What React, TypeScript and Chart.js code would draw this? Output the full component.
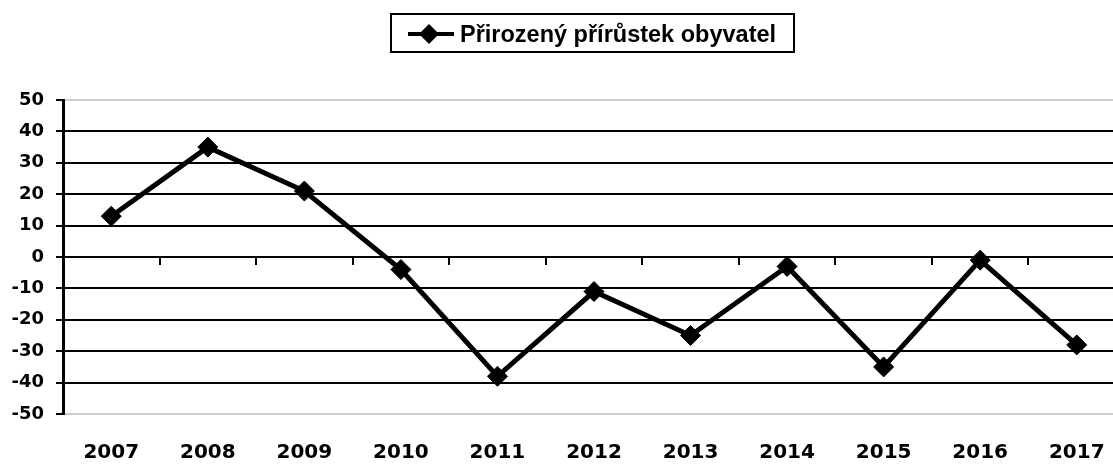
import React, { useEffect, useRef } from "react";
import { Chart, registerables } from "chart.js";

Chart.register(...registerables);

const years = ["2007", "2008", "2009", "2010", "2011", "2012", "2013", "2014", "2015", "2016", "2017"];
const growth = [13, 35, 21, -4, -38, -11, -25, -3, -35, -1, -28];
const seriesName = "Přirozený přírůstek obyvatel";
const yMin = -50;
const yMax = 50;
const yStep = 10;

const AXIS_FONT = "'DejaVu Sans', Verdana, sans-serif";
const LEGEND_FONT = "'Liberation Sans', Arial, sans-serif";

export default function App() {
  const ref = useRef<HTMLCanvasElement | null>(null);

  useEffect(() => {
    document.body.style.margin = "0";
    document.body.style.overflow = "hidden";
    const canvas = ref.current;
    if (!canvas) return;
    const chart = new Chart(canvas, {
      type: "line",
      data: {
        labels: years,
        datasets: [
          {
            label: seriesName,
            data: growth,
            borderColor: "#000",
            backgroundColor: "#000",
            borderWidth: 5,
            pointStyle: "rectRot",
            pointRadius: 10,
            pointBorderWidth: 1,
            pointBackgroundColor: "#000",
            pointBorderColor: "#000",
            tension: 0,
            fill: false,
            xAxisID: "x",
          },
        ],
      },
      options: {
        responsive: false,
        animation: false,
        maintainAspectRatio: false,
        layout: { padding: { top: 100, right: 0, left: 0, bottom: 0 } },
        plugins: {
          legend: { display: false },
          tooltip: { enabled: false },
        },
        scales: {
          x: {
            type: "category",
            position: "bottom",
            offset: true,
            grid: { display: false },
            border: { display: false },
            ticks: {
              color: "#000",
              font: { family: AXIS_FONT, size: 20, weight: "bold" },
              padding: 19,
              maxRotation: 0,
              autoSkip: false,
            },
            afterFit: (s: any) => {
              s.height = 50;
              s.paddingLeft = 0;
              s.paddingRight = 0;
            },
          },
          xZero: {
            type: "category",
            labels: years,
            position: { y: 0 } as any,
            offset: true,
            grid: {
              offset: true,
              display: true,
              drawOnChartArea: false,
              drawTicks: true,
              tickLength: 7,
              color: "#000",
              lineWidth: 2,
            },
            border: { display: true, color: "#000", width: 2 },
            ticks: { display: false },
            afterFit: (s: any) => {
              s.paddingLeft = 0;
              s.paddingRight = 0;
            },
          },
          y: {
            type: "linear",
            min: yMin,
            max: yMax,
            ticks: {
              stepSize: yStep,
              color: "#000",
              font: { family: AXIS_FONT, size: 18, weight: "bold" },
              padding: 12,
            },
            grid: {
              color: (ctx: any) =>
                ctx.tick && (ctx.tick.value === yMax || ctx.tick.value === yMin) ? "#cfcfcf" : "#000",
              tickColor: "#000",
              lineWidth: 2,
              tickLength: 7,
            },
            border: { display: true, color: "#000", width: 3 },
            afterFit: (s: any) => {
              s.width = 63;
            },
          },
        },
      },
    });
    return () => chart.destroy();
  }, []);

  return (
    <div style={{ position: "fixed", left: 0, top: 0, width: 1113, height: 464, overflow: "hidden", background: "#fff" }}>
      <canvas ref={ref} width={1136} height={464} style={{ position: "absolute", left: 0, top: 0, width: 1136, height: 464 }} />
      <div
        style={{
          position: "absolute",
          left: 390,
          top: 13,
          width: 401,
          height: 36,
          border: "2px solid #000",
          boxSizing: "content-box",
          fontFamily: LEGEND_FONT,
          fontWeight: "bold",
          fontSize: 23.5,
          color: "#000",
          whiteSpace: "nowrap",
        }}
      >
        <svg width={60} height={36} style={{ position: "absolute", left: 14, top: 0 }}>
          <line x1={2} y1={19} x2={48} y2={19} stroke="#000" strokeWidth={4} />
          <polygon points="23,9 33,19 23,29 13,19" fill="#000" />
        </svg>
        <span style={{ position: "absolute", left: 68, top: 0, lineHeight: "38px" }}>{seriesName}</span>
      </div>
    </div>
  );
}
